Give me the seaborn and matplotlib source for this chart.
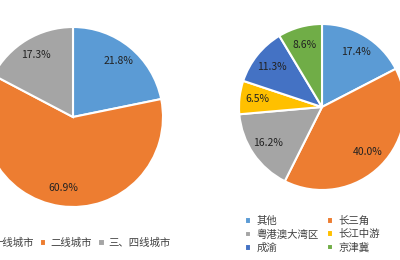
import matplotlib
matplotlib.use("Agg")
import matplotlib.pyplot as plt
import seaborn as sns

sns.set_theme(style="white")
plt.rcParams['font.family'] = ['Noto Sans CJK SC', 'DejaVu Sans']

left_labels = ["一线城市", "二线城市", "三、四线城市"]
left_values = [21.8, 60.9, 17.3]
left_colors = ["#5B9BD5", "#ED7D31", "#A5A5A5"]

right_labels = ["其他", "长三角", "粤港澳大湾区", "长江中游", "成渝", "京津冀"]
right_values = [17.4, 40.0, 16.2, 6.5, 11.3, 8.6]
right_colors = ["#5B9BD5", "#ED7D31", "#A5A5A5", "#FFC000", "#4472C4", "#70AD47"]

W, H = 400, 260
fig = plt.figure(figsize=(W / 100, H / 100), dpi=100)
fig.patch.set_facecolor("white")


def axes_px(cx, cy, r):
    return fig.add_axes([(cx - r) / W, (H - cy - r) / H, 2 * r / W, 2 * r / H])


axL = axes_px(73, 117, 90)
wL, tL, aL = axL.pie(left_values, colors=left_colors, startangle=90, counterclock=False,
                     autopct="%.1f%%", pctdistance=0.8,
                     wedgeprops=dict(edgecolor="white", linewidth=1.5),
                     textprops=dict(fontsize=7.5, color="#222222"))
axL.set_xlim(-1, 1)
axL.set_ylim(-1, 1)
axL.set_aspect("equal")
axL.axis("off")

axR = axes_px(322, 107, 83)
wR, tR, aR = axR.pie(right_values, colors=right_colors, startangle=90, counterclock=False,
                     autopct="%.1f%%", pctdistance=0.78,
                     wedgeprops=dict(edgecolor="white", linewidth=1.5),
                     textprops=dict(fontsize=7.5, color="#222222"))
axR.set_xlim(-1, 1)
axR.set_ylim(-1, 1)
axR.set_aspect("equal")
axR.axis("off")

legL = fig.legend(wL, left_labels, loc="center left", bbox_to_anchor=(-18 / W, 1 - 243 / H),
                  ncol=3, frameon=False, fontsize=7.5, handlelength=0.6, handleheight=0.6,
                  handletextpad=0.4, columnspacing=0.6, borderaxespad=0, borderpad=0,
                  labelcolor="#404040")

order = [0, 2, 4, 1, 3, 5]
legR = fig.legend([wR[i] for i in order], [right_labels[i] for i in order],
                  loc="upper left", bbox_to_anchor=(245 / W, 1 - 216 / H),
                  ncol=2, frameon=False, fontsize=7.5, handlelength=0.6, handleheight=0.6,
                  handletextpad=0.5, columnspacing=0.8, labelspacing=0.3,
                  borderaxespad=0, borderpad=0, labelcolor="#404040")

fig.savefig("out.png", dpi=100, facecolor="white")
